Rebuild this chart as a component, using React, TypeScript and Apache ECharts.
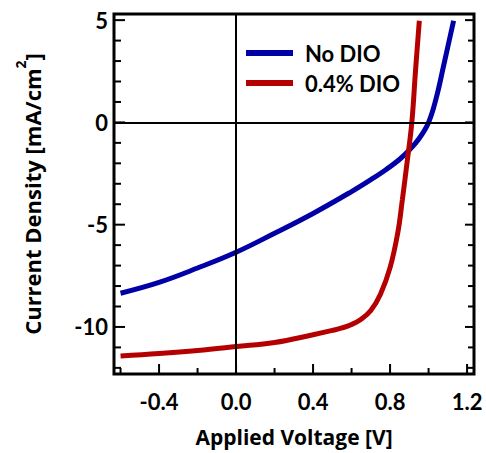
import React, { useEffect, useRef } from "react";
import * as echarts from "echarts";

const noDioV = [-0.6, -0.4, -0.2, 0, 0.2, 0.4, 0.6, 0.7, 0.78, 0.85, 0.9, 0.95, 1.0, 1.04, 1.08, 1.13];
const noDioJ = [-8.35, -7.82, -7.12, -6.35, -5.42, -4.45, -3.38, -2.8, -2.3, -1.8, -1.35, -0.8, 0, 1.2, 2.85, 4.97];

const dioV = [-0.6, -0.4, -0.2, 0, 0.2, 0.4, 0.5, 0.55, 0.6, 0.65, 0.7, 0.75, 0.8, 0.84, 0.864, 0.887, 0.913, 0.932, 0.952];
const dioJ = [-11.42, -11.3, -11.15, -10.96, -10.76, -10.38, -10.17, -10.05, -9.88, -9.62, -9.2, -8.4, -7.1, -5.4, -3.77, -2.06, 0, 2.5, 4.97];

const xLabels = [-0.4, 0, 0.4, 0.8, 1.2];
const yLabels = [-10, -5, 0, 5];
const xMinorTicks = [-0.6, -0.2, 0.2, 0.6, 1.0];
const yMinorTicks = [-12, -11, -9, -8, -7, -6, -4, -3, -2, -1, 1, 2, 3, 4];

const X_MIN = -0.634;
const X_MAX = 1.236;
const Y_MIN = -12.3;
const Y_MAX = 5.3;

const FONT = "Lato";
const TFONT = "Open Sans";
const BLUE = "#0000a6";
const RED = "#b40000";

const G = { left: 114, right: 12, top: 14, bottom: 79 };

export default function App() {
  const ref = useRef<HTMLDivElement>(null);
  useEffect(() => {
    if (!ref.current) return;
    const chart = echarts.init(ref.current, undefined, { renderer: "svg" });
    const hidden = { show: false };
    // inward tick marks drawn as thin rectangular symbols anchored on the frame
    const tickSeries = (pts: number[][], size: number[], offset: number[]) => ({
      type: "scatter",
      silent: true,
      clip: false,
      z: 4,
      symbol: "rect",
      symbolSize: size,
      symbolOffset: offset,
      itemStyle: { color: "#000", opacity: 1 },
      emphasis: { disabled: true },
      data: pts,
    });
    const bottom = (vals: number[]) => vals.map((v) => [v, Y_MIN]);
    const leftSide = (vals: number[]) => vals.map((v) => [X_MIN, v]);
    const rightSide = (vals: number[]) => vals.map((v) => [X_MAX, v]);

    chart.setOption({
      animation: false,
      backgroundColor: "#fff",
      textStyle: { fontFamily: FONT },
      grid: {
        left: G.left, right: G.right, top: G.top, bottom: G.bottom,
        show: true, borderColor: "#000", borderWidth: 3, backgroundColor: "transparent",
        containLabel: false, outerBoundsMode: "none",
      },
      legend: {
        orient: "vertical",
        left: 241,
        top: 37,
        itemWidth: 47,
        itemHeight: 6,
        itemGap: 8,
        icon: "rect",
        textStyle: { fontFamily: FONT, fontWeight: "bold", fontSize: 22, color: "#000", padding: [0, 0, 0, 7] },
        data: ["No DIO", "0.4% DIO"],
      },
      xAxis: {
        type: "value",
        min: X_MIN,
        max: X_MAX,
        position: "bottom",
        splitLine: hidden,
        axisLine: { show: false, onZero: false },
        axisTick: hidden,
        name: "Applied Voltage [V]",
        nameLocation: "middle",
        nameGap: 52,
        nameTextStyle: { fontFamily: TFONT, fontWeight: "bold", fontSize: 21, color: "#000" },
        axisLabel: { show: true, margin: 16, fontFamily: FONT, fontWeight: "bold", fontSize: 22, color: "#000", customValues: xLabels, formatter: (v: number) => v.toFixed(1) },
      },
      yAxis: {
        type: "value",
        min: Y_MIN,
        max: Y_MAX,
        position: "left",
        splitLine: hidden,
        axisLine: { show: false, onZero: false },
        axisTick: hidden,
        name: "{a|Current Density [mA/cm}{s|2}{a|]}",
        nameLocation: "middle",
        nameGap: 71,
        nameTextStyle: {
          rich: {
            a: { fontFamily: TFONT, fontWeight: "bold", fontSize: 22, color: "#000", lineHeight: 30, verticalAlign: "bottom" },
            s: { fontFamily: TFONT, fontWeight: "bold", fontSize: 14, color: "#000", lineHeight: 14, verticalAlign: "top" },
          },
        },
        axisLabel: { show: true, margin: 6, fontFamily: FONT, fontWeight: "bold", fontSize: 22, color: "#000", customValues: yLabels },
      },
      series: [
        {
          name: "zero",
          type: "line",
          data: [],
          z: 1,
          markLine: {
            silent: true,
            symbol: ["none", "none"],
            label: { show: false },
            lineStyle: { color: "#000", width: 2, type: "solid" },
            data: [{ xAxis: 0 }, { yAxis: 0 }],
          },
        },
        tickSeries(bottom(xLabels), [2, 10], [0, -5]),
        tickSeries(bottom(xMinorTicks), [2, 6], [0, -3]),
        tickSeries(leftSide(yLabels), [11, 2], [5.5, 0]),
        tickSeries(leftSide(yMinorTicks), [7, 2], [3.5, 0]),
        tickSeries(rightSide(yLabels), [9, 2], [-4.5, 0]),
        tickSeries(rightSide(yMinorTicks), [6, 2], [-3, 0]),
        {
          name: "No DIO",
          type: "line",
          z: 3,
          data: noDioV.map((v, i) => [v, noDioJ[i]]),
          smooth: 0.4,
          showSymbol: false,
          itemStyle: { color: BLUE },
          lineStyle: { color: BLUE, width: 5 },
        },
        {
          name: "0.4% DIO",
          type: "line",
          z: 3,
          data: dioV.map((v, i) => [v, dioJ[i]]),
          smooth: 0.4,
          showSymbol: false,
          itemStyle: { color: RED },
          lineStyle: { color: RED, width: 5 },
        },
      ],
    });

    return () => chart.dispose();
  }, []);
  return <div ref={ref} style={{ width: 486, height: 453, position: "absolute", left: 0, top: 0 }} />;
}
